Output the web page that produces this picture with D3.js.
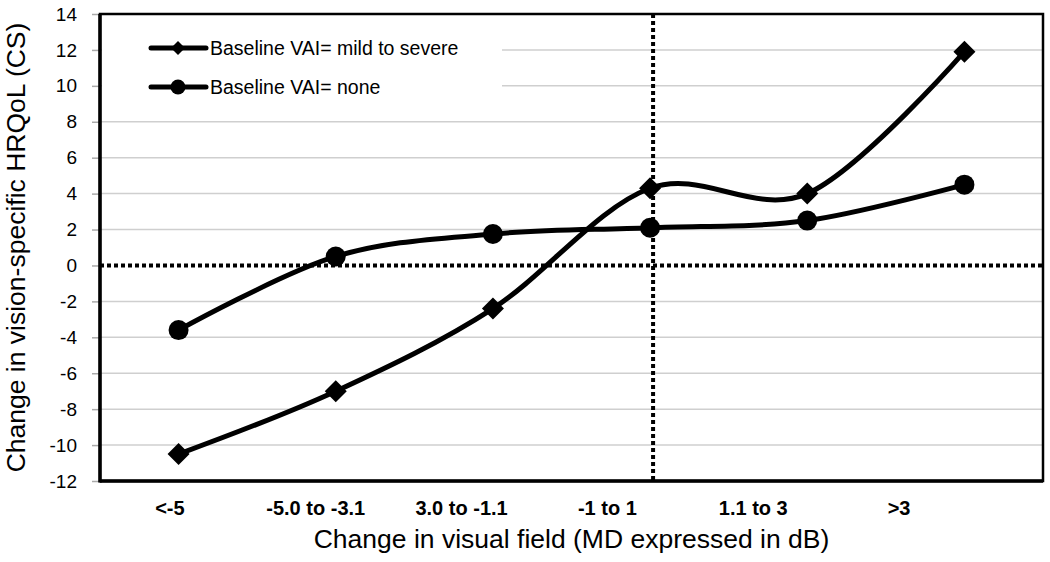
<!DOCTYPE html>
<html>
  <head>
    <meta charset="utf-8">
    <style>
      html, body {
        margin: 0px;
        padding: 0px;
        background: #fff;
      }
      svg {
        display: block;
      }
      text {
        font-family: "Liberation Sans", Arial, sans-serif;
        fill: #000;
      }
    </style>
  </head>
  <body>
    <svg id="chart" width="1050" height="562"></svg>
    <script src="https://cdnjs.cloudflare.com/ajax/libs/d3/7.8.5/d3.min.js" charset="utf-8"></script>
    <script>
      // categories and series
      var categories = ["<-5", "-5.0 to -3.1", "3.0 to -1.1", "-1 to 1", "1.1 to 3", ">3"];
      var mildSevere = [-10.5, -7.0, -2.4, 4.3, 4.0, 11.9];
      var noneVai = [-3.6, 0.5, 1.75, 2.1, 2.5, 4.5];
      var yTicks = [-12, -10, -8, -6, -4, -2, 0, 2, 4, 6, 8, 10, 12, 14];
      var seriesNames = ["Baseline VAI= mild to severe", "Baseline VAI= none"];

      (function() {
        var pLeft = 100, pRight = 1043, pTop = 14, pBottom = 481;
        var svg = d3.select('#chart');

        var x = d3.scaleBand().domain(categories).range([pLeft, pRight]);
        // the category labels sit on a narrower spacing than the points
        var xLabel = d3.scaleBand().domain(categories).range([97, 972]);
        var y = d3.scaleLinear().domain([-12, 14]).range([pBottom, pTop]);
        var cx = function(c) { return x(c) + x.bandwidth() / 2; };

        // gridlines
        svg.append('g').selectAll('line')
          .data(yTicks.filter(function(t) { return t !== 14 && t !== -12 && t !== 0; }))
          .enter().append('line')
          .attr('x1', pLeft).attr('x2', pRight)
          .attr('y1', function(d) { return y(d); })
          .attr('y2', function(d) { return y(d); })
          .attr('stroke', '#cfcfcf')
          .attr('stroke-width', 1.5);

        // y axis with ticks and labels (plain hyphen for negatives)
        var yAxis = d3.axisLeft(y).tickValues(yTicks).tickSize(8).tickPadding(15)
          .tickFormat(function(d) { return String(d); });
        var ya = svg.append('g').attr('transform', 'translate(' + pLeft + ',0)').call(yAxis);
        ya.select('.domain').remove();
        ya.selectAll('.tick line').attr('stroke', '#aaa').attr('stroke-width', 1.5);
        ya.selectAll('.tick text')
          .style('font-size', '19px')
          .style('font-family', '"Liberation Sans", Arial, sans-serif')
          .attr('fill', '#000');

        // legend background hides the gridlines
        svg.append('rect')
          .attr('x', pLeft + 2).attr('y', pTop + 6)
          .attr('width', 400).attr('height', 90)
          .attr('fill', '#fff');

        // reference dotted lines
        svg.append('line')
          .attr('x1', pLeft).attr('x2', pRight)
          .attr('y1', y(0)).attr('y2', y(0))
          .attr('stroke', '#000').attr('stroke-width', 4)
          .attr('stroke-dasharray', '4,3');
        svg.append('line')
          .attr('x1', cx("-1 to 1") + 3).attr('x2', cx("-1 to 1") + 3)
          .attr('y1', pTop).attr('y2', pBottom)
          .attr('stroke', '#000').attr('stroke-width', 4)
          .attr('stroke-dasharray', '4,3');

        // frame
        svg.append('rect')
          .attr('x', pLeft).attr('y', pTop)
          .attr('width', pRight - pLeft).attr('height', pBottom - pTop)
          .attr('fill', 'none').attr('stroke', '#000').attr('stroke-width', 2.5);
        svg.append('line')
          .attr('x1', pLeft).attr('x2', pLeft).attr('y1', pTop).attr('y2', pBottom + 1.5)
          .attr('stroke', '#000').attr('stroke-width', 3.5);
        svg.append('line')
          .attr('x1', pLeft).attr('x2', pRight).attr('y1', pBottom).attr('y2', pBottom)
          .attr('stroke', '#000').attr('stroke-width', 3.5);

        var line = d3.line()
          .x(function(d, i) { return cx(categories[i]); })
          .y(function(d) { return y(d); })
          .curve(d3.curveCardinal.tension(0));

        var diamondPath = function(s) {
          return 'M0,' + (-s) + 'L' + s + ',0L0,' + s + 'L' + (-s) + ',0Z';
        };

        [mildSevere, noneVai].forEach(function(vals) {
          svg.append('path')
            .attr('d', line(vals))
            .attr('fill', 'none')
            .attr('stroke', '#000')
            .attr('stroke-width', 5)
            .attr('stroke-linejoin', 'round');
        });

        svg.append('g').selectAll('path')
          .data(mildSevere).enter().append('path')
          .attr('d', diamondPath(11))
          .attr('transform', function(d, i) { return 'translate(' + cx(categories[i]) + ',' + y(d) + ')'; })
          .attr('fill', '#000');

        svg.append('g').selectAll('circle')
          .data(noneVai).enter().append('circle')
          .attr('cx', function(d, i) { return cx(categories[i]); })
          .attr('cy', function(d) { return y(d); })
          .attr('r', 10)
          .attr('fill', '#000');

        // x category labels
        svg.append('g').selectAll('text')
          .data(categories).enter().append('text')
          .attr('x', function(d) { return xLabel(d) + xLabel.bandwidth() / 2; })
          .attr('y', 515)
          .attr('text-anchor', 'middle')
          .style('font-size', '20px')
          .style('font-weight', 'bold')
          .text(function(d) { return d; });

        // legend
        var legend = svg.append('g');
        seriesNames.forEach(function(name, i) {
          var ly = 48 + i * 39;
          legend.append('line')
            .attr('x1', 151).attr('x2', 206).attr('y1', ly).attr('y2', ly)
            .attr('stroke', '#000').attr('stroke-width', 5).attr('stroke-linecap', 'round');
          if (i === 0) {
            legend.append('path').attr('d', diamondPath(7))
              .attr('transform', 'translate(178,' + ly + ')').attr('fill', '#000');
          } else {
            legend.append('circle').attr('cx', 178).attr('cy', ly).attr('r', 7.5).attr('fill', '#000');
          }
          legend.append('text')
            .attr('x', 210).attr('y', ly + 7)
            .style('font-size', '19.5px')
            .text(name);
        });

        // axis titles
        svg.append('text')
          .attr('x', (pLeft + pRight) / 2).attr('y', 548)
          .attr('text-anchor', 'middle')
          .style('font-size', '26.5px')
          .text('Change in visual field (MD expressed in dB)');
        svg.append('text')
          .attr('transform', 'translate(25,' + ((pTop + pBottom) / 2) + ') rotate(-90)')
          .attr('text-anchor', 'middle')
          .style('font-size', '26.5px')
          .text('Change in vision-specific HRQoL (CS)');
      })();
    </script>
  </body>
</html>
